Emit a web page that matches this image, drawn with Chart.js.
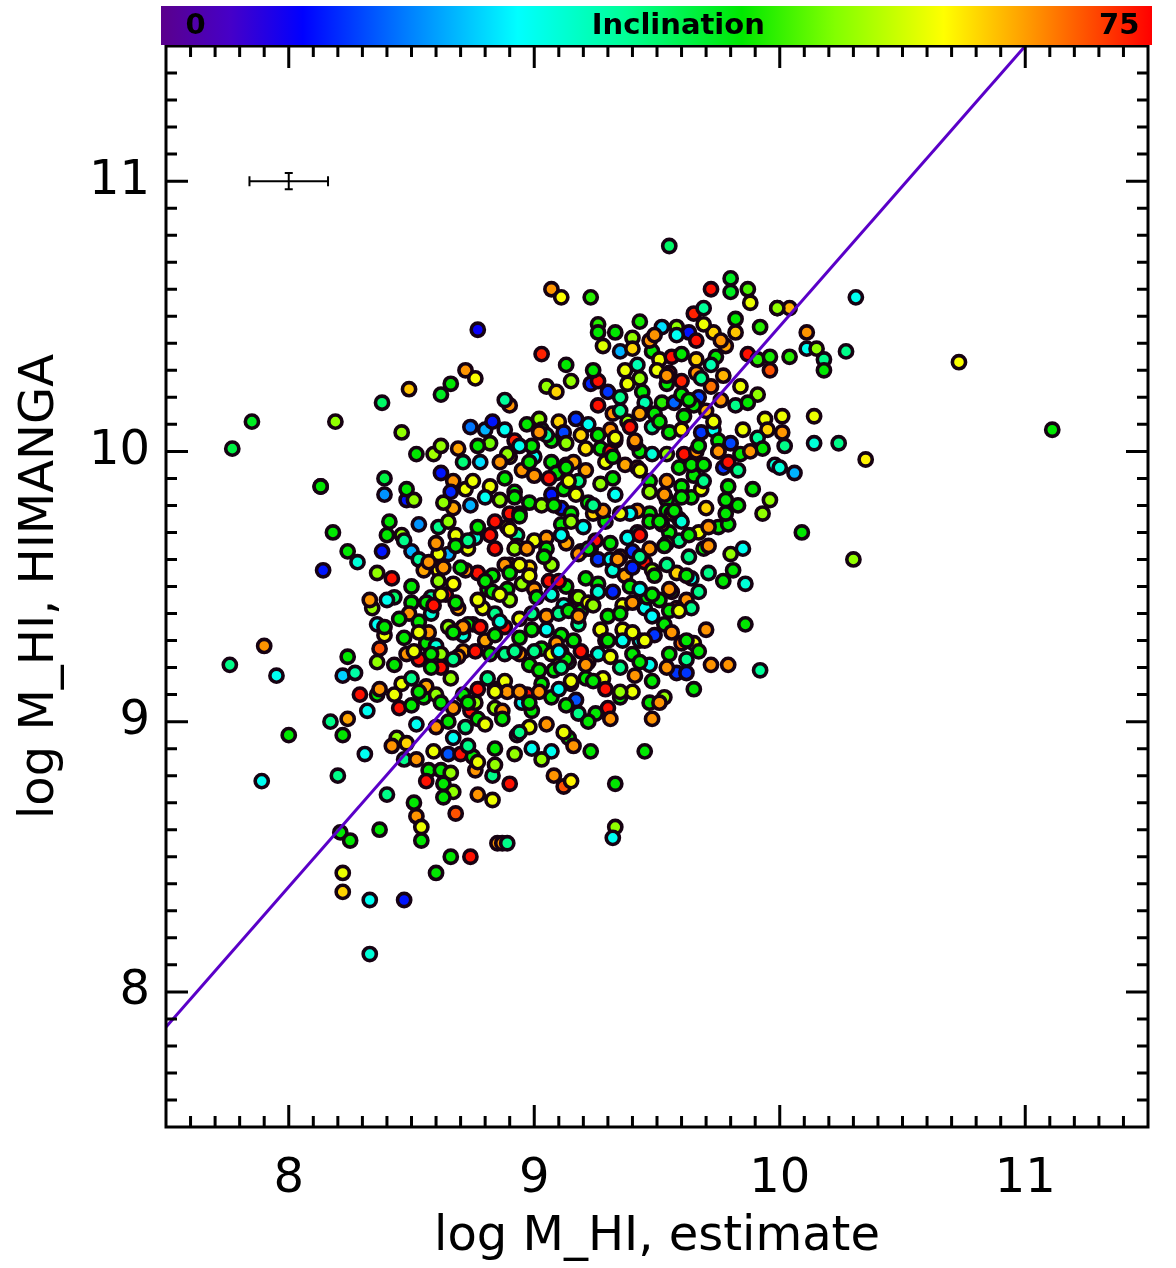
<!DOCTYPE html>
<html><head><meta charset="utf-8">
<script src="https://cdn.jsdelivr.net/npm/chart.js@4.4.1/dist/chart.umd.min.js"></script>
<style>html,body{margin:0;padding:0;background:#fff;} #wrap{width:1176px;height:1268px;position:relative;}</style>
</head><body><div id="wrap"><canvas id="c"></canvas></div>
<script>
// ---------- data ----------
const xTicks = [8, 9, 10, 11];
const yTicks = [8, 9, 10, 11];
const xRange = [7.5, 11.5];
const yRange = [7.5, 11.5];
const colorbarRange = [0, 75];
const colorbarLabels = ['0', 'Inclination', '75'];
const xTitle = 'log M_HI, estimate';
const yTitle = 'log M_HI, HIMANGA';

const fitX = [7.5, 11.0];
const fitY = [7.87, 11.5];

const errCenterX = [8.0];
const errCenterY = [11.0];
const errHalfX = [0.16];
const errHalfY = [0.03];

const xEstimate = [
 8.77,8.72,8.76,8.66,8.62,8.49,8.38,7.85,7.77,8.19,8.46,8.74,8.80,8.83,8.82,8.52,8.59,8.62,8.69,8.71,8.78,8.62,8.39,8.13,
 9.55,9.07,9.11,9.23,9.72,9.80,9.80,9.87,9.88,9.99,9.03,9.43,9.65,9.69,9.26,9.26,9.33,9.40,9.28,9.35,9.40,9.52,9.58,9.63,9.66,9.73,9.82,9.82,9.92,
 9.13,9.15,9.05,9.09,9.23,9.30,9.26,9.42,9.37,9.43,9.38,9.44,9.48,9.51,9.56,9.66,9.74,9.77,9.87,9.91,9.96,9.96,9.72,9.66,9.55,9.60,9.54,9.72,9.84,9.91,
 9.45,9.52,9.57,9.60,9.67,9.65,9.70,9.82,9.87,9.94,9.95,8.90,8.88,8.88,9.32,9.43,9.49,9.61,9.48,9.38,9.55,9.60,9.68,9.73,9.85,9.75,9.80,9.91,9.93,9.75,9.77,9.65,9.98,
 8.97,9.02,9.03,9.10,9.17,9.22,9.12,9.19,9.26,8.92,9.00,9.07,9.13,9.21,9.27,9.31,9.33,9.43,8.90,9.07,9.13,9.21,9.37,9.65,8.95,9.32,
 8.13,8.18,8.24,8.28,8.14,8.39,8.48,8.48,8.51,8.53,8.40,8.46,8.38,8.50,8.53,8.36,8.42,8.55,8.61,8.61,8.50,8.67,8.43,8.58,8.50,8.34,8.49,8.58,8.53,8.36,8.39,8.47,
 7.90,7.76,7.95,8.37,8.36,8.43,8.22,8.27,8.46,8.29,8.36,8.32,8.17,8.24,8.45,8.50,8.55,8.52,8.56,8.60,8.62,8.53,8.62,8.66,8.56,8.60,8.62,8.67,8.74,8.77,
 8.84,8.77,8.84,8.71,8.71,8.80,8.75,8.69,8.79,8.77,8.83,8.82,8.73,8.65,8.68,8.76,8.77,8.74,8.67,8.72,8.82,8.84,8.81,8.72,
 9.07,9.17,9.33,8.92,8.98,9.03,9.11,9.24,8.90,8.89,9.15,9.11,9.11,9.00,8.93,9.13,9.19,9.23,9.26,9.31,9.31,8.90,9.07,9.06,8.95,8.89,9.00,8.90,8.98,9.13,
 9.17,9.12,9.21,9.26,9.26,9.32,9.32,9.37,9.40,9.47,9.45,9.39,9.05,9.19,9.36,9.45,9.46,9.51,9.48,9.30,9.18,9.05,8.99,8.88,8.94,9.11,9.27,9.36,9.49,9.53,
 9.43,9.03,8.98,9.26,9.22,9.11,9.10,9.14,8.88,9.03,9.15,9.28,9.21,8.95,9.07,9.17,8.97,8.99,8.87,8.98,9.30,9.25,9.31,9.48,9.53,9.65,9.48,9.47,9.55,9.58,
 9.62,9.62,9.72,9.79,9.92,9.60,9.65,9.70,9.86,9.86,9.77,9.71,9.64,9.62,9.58,9.64,9.58,9.56,9.63,9.85,9.80,9.69,9.59,9.67,9.55,9.54,9.75,9.79,9.93,9.96,
 9.89,9.70,9.78,9.64,9.68,9.79,9.60,9.54,9.47,9.52,9.59,9.42,9.47,9.42,9.39,9.25,
 8.00,8.22,8.31,7.89,8.20,8.40,8.44,8.42,8.48,8.47,8.52,8.59,8.65,8.70,8.75,8.57,8.62,8.66,8.56,8.63,8.67,8.63,
 8.76,8.83,8.84,8.77,8.83,8.51,8.52,8.54,8.54,8.68,8.37,8.21,8.25,8.22,8.22,8.33,8.47,8.33,8.60,8.66,8.74,8.85,
 8.92,8.93,9.07,9.03,9.14,9.12,8.90,9.08,9.12,9.15,9.23,9.45,9.33,9.33,9.32,8.87,8.89,
 10.31,10.11,10.11,10.15,10.18,10.18,10.27,10.04,10.73,11.11,10.01,10.01,10.14,10.02,10.14,10.24,10.35,10.00,10.06,10.04,9.99,10.09,10.30,
 9.60,9.78,9.76,8.89,9.16,9.59,9.64,9.69,8.67,8.75,8.88,9.00,9.09,9.18,9.27,9.47,9.54,8.63,8.66,9.12,9.22,9.53,9.54,9.60,9.78,8.61,8.90,8.93,9.05,9.15,9.29,8.84,8.88,8.92,8.94,9.35,8.83,8.73,8.84,8.94,9.00,9.09,9.13,9.19,9.31,8.81,9.08,9.15,8.60,8.67,
 9.58,9.69,9.76,9.47,9.68,9.50,9.54,9.26,9.35,9.31,9.39,9.33,9.41,9.48,9.54,9.61,9.66,9.75,9.79,9.84,8.99,9.05,8.98,9.06,9.13,9.29,9.42,8.94,9.11,9.20,
 9.28,9.35,9.38,9.43,9.51,9.56,9.60,9.63,9.71,8.80,8.86,8.92,8.97,9.05,9.18,9.22,9.34,9.43,9.53,9.54,9.40,9.48,9.62,8.72,8.80,8.86,9.01,9.07,9.18,9.22,
 9.35,9.40,9.43,9.48,9.55,8.64,8.68,8.65,8.71,8.78,8.84,8.94,8.99,9.10,9.14,9.24,9.29,9.36,9.40,9.55,9.56,8.58,8.69,8.76,8.82,8.88,9.02,9.07,9.16,9.21,
 9.11,9.24,8.71,8.76,8.89,8.94,8.98,9.10,9.13,9.18,8.80,8.87,9.05,8.73,8.84,8.99,9.16,9.29,9.35,9.40,9.41,9.35,9.40,9.45,9.62,9.54,8.68,8.61,8.57,8.56,
 8.58,8.67,8.48,8.45,8.40,8.62,8.70,8.60,8.43,8.50,
 8.77,8.86,8.94,9.14,9.24,9.08,9.47,9.57,9.71,9.81,9.67,9.49,9.59,9.18,9.30,8.92,9.02,8.73,8.84,9.35,9.47,8.59,8.67,8.51,8.53,9.04,9.10,9.32,9.41,9.63,9.73,9.88,9.24,9.35,9.49,8.41,8.47,8.33,8.39,8.24,8.77,8.86,8.63,9.02,9.69,9.83,
 8.90,8.98,8.65,8.73,8.57,8.94,9.43,9.67,9.83,9.51,9.10,9.43,9.51,9.67,8.65,8.94,8.77,9.22,8.53,8.37
];
const yHimanga = [
 10.45,10.30,10.27,10.25,10.21,10.23,10.18,10.11,10.01,10.11,10.07,10.09,10.08,10.11,10.03,9.99,9.99,10.02,10.01,9.96,9.96,9.92,9.90,9.87,
 10.76,10.60,10.57,10.57,10.60,10.64,10.59,10.60,10.55,10.53,10.36,10.48,10.51,10.53,10.47,10.44,10.44,10.42,10.39,10.37,10.38,10.46,10.46,10.44,10.41,10.44,10.49,10.44,10.46,
 10.32,10.26,10.24,10.22,10.25,10.22,10.26,10.32,10.30,10.27,10.25,10.22,10.37,10.34,10.35,10.34,10.35,10.28,10.36,10.34,10.35,10.30,10.32,10.29,10.29,10.26,10.25,10.24,10.24,10.21,
 10.18,10.18,10.18,10.21,10.20,10.17,10.15,10.17,10.18,10.12,10.08,10.17,10.19,10.08,10.14,10.14,10.14,10.13,10.09,10.11,10.07,10.08,10.07,10.08,10.08,10.04,10.03,10.05,10.01,10.00,9.94,9.99,9.95,
 10.10,10.12,10.08,10.11,10.12,10.10,10.07,10.06,10.06,10.04,9.98,10.04,10.03,10.01,10.01,10.00,10.04,10.00,9.98,9.96,9.95,9.93,9.95,9.91,9.93,9.90,
 9.87,9.70,9.63,9.59,9.56,9.84,9.82,9.86,9.82,9.73,9.69,9.69,9.63,9.63,9.60,9.55,9.53,9.56,9.56,9.52,9.50,9.51,9.46,9.46,9.44,9.42,9.40,9.40,9.37,9.36,9.32,9.31,
 9.28,9.21,9.17,9.27,9.22,9.21,9.17,9.18,9.14,9.10,9.10,9.04,9.00,9.01,9.05,9.06,9.09,8.99,9.29,9.28,9.25,9.23,9.20,9.16,9.13,9.10,9.07,9.05,9.04,9.01,
 9.05,9.12,9.12,9.26,9.32,9.30,9.36,9.42,9.42,9.55,9.54,9.69,9.64,9.62,9.69,9.68,9.72,9.80,9.79,9.86,9.87,9.74,9.49,8.98,
 9.84,9.84,9.84,9.85,9.81,9.80,9.79,9.77,9.77,9.72,9.77,9.73,9.69,9.67,9.69,9.66,9.63,9.64,9.60,9.60,9.66,9.58,9.58,9.52,9.51,9.49,9.49,9.45,9.57,9.50,
 9.46,9.43,9.53,9.51,9.48,9.48,9.56,9.54,9.63,9.64,9.59,9.50,9.39,9.41,9.43,9.42,9.46,9.45,9.39,9.39,9.36,9.34,9.34,9.35,9.31,9.32,9.34,9.34,9.32,9.36,
 9.30,9.27,9.21,9.25,9.22,9.26,9.21,9.22,9.15,9.14,9.14,9.16,9.16,9.07,9.09,9.08,9.10,9.04,9.04,8.98,9.05,9.03,9.01,9.01,9.09,9.12,9.15,9.21,9.25,9.18,
 9.18,9.23,9.21,9.21,9.19,9.29,9.29,9.34,9.36,9.51,9.52,9.55,9.53,9.45,9.42,9.42,9.55,9.48,9.61,9.64,9.62,9.64,9.67,9.70,9.70,9.66,9.72,9.73,9.77,9.82,
 9.86,9.79,9.82,9.83,9.86,9.87,9.87,9.82,9.77,9.73,9.75,9.70,9.74,9.78,9.77,9.67,
 8.95,8.95,8.88,8.78,8.80,8.73,8.94,8.91,8.92,8.86,8.86,8.89,8.88,8.88,8.87,8.82,8.82,8.81,8.78,8.77,8.74,8.72,
 8.82,8.80,8.84,8.73,8.71,8.70,8.65,8.61,8.56,8.66,8.60,8.59,8.56,8.44,8.37,8.34,8.34,8.14,8.44,8.50,8.50,8.55,
 8.88,8.95,8.89,8.86,8.94,8.96,8.77,8.80,8.76,8.78,8.89,8.89,8.77,8.61,8.57,8.55,8.55,
 10.57,10.44,10.38,10.38,10.34,10.30,10.37,10.35,10.33,10.08,10.13,10.07,10.13,10.02,10.03,10.03,9.97,9.94,9.92,10.53,10.53,9.70,9.60,
 10.36,10.39,10.19,9.99,9.96,9.94,9.95,9.95,9.89,9.89,9.90,9.91,9.92,9.89,9.88,9.89,9.89,9.81,9.85,9.86,9.81,9.84,9.78,9.83,9.77,9.72,9.71,9.65,9.68,9.74,9.74,9.64,9.58,9.64,9.58,9.61,9.48,9.36,9.40,9.25,9.26,9.29,9.23,9.26,9.24,9.16,9.19,9.15,8.98,8.94,
 10.43,10.47,10.41,10.41,10.27,10.30,10.28,10.17,10.15,10.08,10.09,10.05,10.03,9.99,9.99,9.99,10.00,10.00,9.96,9.99,10.02,10.06,9.96,9.90,9.94,9.96,9.94,9.77,9.69,9.72,
 9.78,9.77,9.68,9.69,9.74,9.77,9.74,9.69,9.72,9.83,9.82,9.83,9.64,9.64,9.62,9.64,9.60,9.61,9.65,9.58,9.57,9.56,9.54,9.56,9.52,9.47,9.46,9.47,9.46,9.44,
 9.40,9.44,9.49,9.47,9.49,9.47,9.44,9.35,9.35,9.35,9.32,9.38,9.40,9.40,9.41,9.43,9.30,9.30,9.33,9.41,9.33,9.25,9.24,9.26,9.25,9.25,9.19,9.25,9.30,9.21,
 9.20,9.15,9.10,9.07,9.11,9.11,9.07,9.12,9.06,9.03,8.99,9.01,8.99,8.91,8.90,8.90,8.91,9.12,9.20,9.25,9.17,9.09,9.11,9.30,9.30,9.20,9.65,9.62,9.33,9.44,
 9.20,9.23,9.25,9.38,9.45,9.47,9.57,9.66,9.10,9.16,
 10.02,9.96,10.02,9.89,9.80,9.80,9.85,9.78,9.65,9.56,9.48,9.54,9.41,9.39,9.30,9.26,9.11,9.07,9.11,9.11,9.07,9.43,9.33,9.26,9.11,9.61,9.52,9.98,10.04,10.19,10.11,10.00,10.30,10.20,10.43,9.74,9.67,9.45,9.35,9.24,9.45,9.37,9.57,10.07,9.89,9.80,
 9.55,9.54,9.74,9.67,9.59,9.76,9.93,10.02,9.93,10.11,9.26,9.22,9.07,9.26,9.00,8.96,8.85,9.00,9.33,9.12
];
const inclination = [
 10,66,59,44,42,63,38,42,40,52,52,18,22,12,50,44,53,52,65,37,25,12,40,40,
 38,66,59,46,74,42,42,48,58,47,73,45,73,35,46,44,44,52,57,22,62,25,52,12,74,62,44,63,46,
 44,52,52,62,13,14,74,33,58,52,58,44,44,58,74,62,44,64,74,46,45,70,33,66,73,73,44,68,58,52,
 33,46,17,44,15,44,64,36,44,58,62,66,35,28,66,65,44,44,35,52,44,60,14,28,58,44,15,35,44,66,14,44,30,
 44,52,44,62,14,28,15,62,44,73,28,44,52,61,44,74,62,44,58,44,52,65,65,44,66,44,
 44,44,44,30,12,20,12,44,52,20,44,52,12,22,35,52,74,65,59,52,44,59,38,35,44,52,66,30,44,28,58,44,
 66,36,28,70,52,44,24,34,58,74,44,28,36,65,74,44,44,28,44,30,52,74,74,52,65,52,44,66,74,44,
 52,74,44,65,30,65,36,65,58,74,44,74,58,22,58,30,44,22,65,58,58,74,44,36,
 12,58,28,44,44,52,13,62,74,58,44,44,30,58,35,65,44,13,14,28,44,68,52,74,52,44,66,52,62,44,
 66,30,44,44,30,13,30,65,14,66,74,44,66,44,58,28,44,44,27,44,35,28,44,74,44,44,58,58,14,44,
 28,44,44,30,65,65,58,36,58,44,64,58,44,28,44,16,74,44,66,58,74,44,66,66,52,44,44,28,44,14,
 14,36,66,66,35,68,58,66,44,30,44,36,28,66,70,36,62,44,36,28,52,44,36,58,44,52,44,44,52,52,
 44,62,44,44,58,44,44,44,44,66,44,36,44,66,28,74,
 44,44,28,28,36,36,52,66,62,36,66,58,16,74,44,44,44,52,74,44,52,44,
 66,36,52,66,58,44,66,58,44,70,44,44,44,58,62,28,12,30,44,44,74,66,
 52,36,28,52,44,58,74,66,70,60,44,44,44,52,28,66,36,
 28,66,28,52,36,44,36,46,59,44,58,66,58,36,30,36,60,30,22,64,52,44,52,
 44,65,66,52,65,44,44,44,66,58,44,66,44,36,52,44,66,52,13,44,44,66,44,44,44,36,58,44,66,52,44,74,66,52,58,66,44,44,36,66,36,66,44,74,58,36,44,58,66,28,
 28,58,66,66,36,58,66,74,36,66,74,58,44,30,52,74,66,66,74,44,44,36,44,74,44,58,66,28,28,28,
 66,58,28,74,44,58,30,44,66,28,52,44,66,44,66,44,66,36,44,36,13,52,44,66,44,58,44,30,52,58,
 44,66,28,44,66,74,44,52,66,74,44,58,36,36,44,52,44,28,58,44,66,44,66,74,44,36,44,58,44,66,
 36,44,44,52,66,66,44,28,44,36,58,44,66,36,44,28,66,74,36,44,66,44,58,58,44,66,44,58,66,44,
 44,36,66,44,28,58,44,66,58,36,
 44,66,28,58,36,44,52,44,66,44,36,44,58,66,44,36,66,44,58,52,44,74,44,58,44,44,74,44,66,44,58,66,44,36,66,44,36,66,44,44,58,30,66,66,36,44,
 44,58,52,36,66,44,58,44,36,44,28,44,66,44,44,36,58,44,58,66
];

// ---------- style helpers ----------
const cmapStops = [
 [0.00, 90, 0, 140],
 [0.07, 70, 0, 200],
 [0.143, 0, 0, 255],
 [0.25, 0, 128, 255],
 [0.36, 0, 255, 255],
 [0.47, 0, 255, 150],
 [0.586, 0, 232, 0],
 [0.68, 130, 255, 0],
 [0.79, 255, 255, 0],
 [0.87, 255, 160, 0],
 [1.00, 255, 0, 0]
];
function cmap(f) {
  f = Math.max(0, Math.min(1, f));
  for (let i = 1; i < cmapStops.length; i++) {
    const a = cmapStops[i-1], b = cmapStops[i];
    if (f <= b[0]) {
      const t = (f - a[0]) / (b[0] - a[0]);
      const r = Math.round(a[1] + t*(b[1]-a[1]));
      const g = Math.round(a[2] + t*(b[2]-a[2]));
      const bl = Math.round(a[3] + t*(b[3]-a[3]));
      return `rgb(${r},${g},${bl})`;
    }
  }
  return 'rgb(255,0,0)';
}
function inclColor(v) { return cmap((v - colorbarRange[0]) / (colorbarRange[1] - colorbarRange[0])); }

const FONT = '"DejaVu Sans", "Liberation Sans", sans-serif';

const decorPlugin = {
  id: 'decor',
  afterDatasetsDraw(chart) {
    const {ctx, chartArea: a, scales: {x, y}} = chart;
    ctx.save();
    // error bar
    ctx.strokeStyle = '#000'; ctx.lineWidth = 2;
    for (let k = 0; k < errCenterX.length; k++) {
      const cx = x.getPixelForValue(errCenterX[k]), cy = y.getPixelForValue(errCenterY[k]);
      const x0 = x.getPixelForValue(errCenterX[k] - errHalfX[k]), x1 = x.getPixelForValue(errCenterX[k] + errHalfX[k]);
      const y0 = y.getPixelForValue(errCenterY[k] - errHalfY[k]), y1 = y.getPixelForValue(errCenterY[k] + errHalfY[k]);
      ctx.beginPath();
      ctx.moveTo(x0, cy); ctx.lineTo(x1, cy);
      ctx.moveTo(x0, cy-5); ctx.lineTo(x0, cy+5);
      ctx.moveTo(x1, cy-5); ctx.lineTo(x1, cy+5);
      ctx.moveTo(cx, y0); ctx.lineTo(cx, y1);
      ctx.moveTo(cx-4, y0); ctx.lineTo(cx+4, y0);
      ctx.moveTo(cx-4, y1); ctx.lineTo(cx+4, y1);
      ctx.stroke();
    }
    // frame and inward ticks
    ctx.lineWidth = 3; ctx.strokeStyle = '#000'; ctx.lineCap = 'butt';
    ctx.strokeRect(a.left, a.top, a.right - a.left, a.bottom - a.top);
    ctx.beginPath();
    for (let k = Math.round(xRange[0]*10)+1; k < Math.round(xRange[1]*10); k++) {
      const v = k/10, len = (k % 10 === 0) ? 22 : 11;
      const px = x.getPixelForValue(v);
      ctx.moveTo(px, a.bottom); ctx.lineTo(px, a.bottom - len);
      ctx.moveTo(px, a.top); ctx.lineTo(px, a.top + len);
    }
    for (let k = Math.round(yRange[0]*10)+1; k < Math.round(yRange[1]*10); k++) {
      const v = k/10, len = (k % 10 === 0) ? 22 : 11;
      const py = y.getPixelForValue(v);
      ctx.moveTo(a.left, py); ctx.lineTo(a.left + len, py);
      ctx.moveTo(a.right, py); ctx.lineTo(a.right - len, py);
    }
    ctx.stroke();
    // colorbar
    const cbL = a.left - 5, cbR = a.right + 4, cbT = 6, cbB = a.top - 1;
    const grad = ctx.createLinearGradient(cbL, 0, cbR, 0);
    cmapStops.forEach(s => grad.addColorStop(s[0], `rgb(${s[1]},${s[2]},${s[3]})`));
    ctx.fillStyle = grad;
    ctx.fillRect(cbL, cbT, cbR - cbL, cbB - cbT);
    ctx.fillStyle = '#000';
    ctx.font = `bold 29px ${FONT}`;
    ctx.textBaseline = 'middle'; ctx.textAlign = 'center';
    const cy2 = (cbT + cbB) / 2 + 1;
    const w = cbR - cbL;
    ctx.fillText(colorbarLabels[0], cbL + 0.035*w, cy2);
    ctx.fillText(colorbarLabels[1], cbL + 0.522*w, cy2);
    ctx.fillText(colorbarLabels[2], cbL + 0.967*w, cy2);
    ctx.restore();
  }
};

const ctx = document.getElementById('c').getContext('2d');
new Chart(ctx, {
  type: 'scatter',
  data: {
    datasets: [
      {
        data: fitX.map((v, i) => ({x: v, y: fitY[i]})),
        showLine: true, pointRadius: 0, borderColor: 'rgb(90,0,200)', borderWidth: 3, fill: false
      },
      {
        data: xEstimate.map((v, i) => ({x: v, y: yHimanga[i]})),
        pointRadius: 6.6, pointHoverRadius: 6.6, borderWidth: 3.6,
        borderColor: 'rgb(22,2,18)',
        backgroundColor: inclination.map(inclColor)
      }
    ]
  },
  options: {
    responsive: true, maintainAspectRatio: false, animation: false,
    layout: {padding: {left: 0, right: 28, top: 46, bottom: 0}},
    plugins: {legend: {display: false}, tooltip: {enabled: false}},
    scales: {
      x: {
        type: 'linear', min: xRange[0], max: xRange[1],
        afterBuildTicks: s => { s.ticks = xTicks.map(v => ({value: v})); },
        afterFit: s => { s.height = 141; },
        grid: {display: false, drawTicks: false}, border: {display: false},
        ticks: {color: '#000', font: {family: FONT, size: 48}, padding: 24, maxRotation: 0, callback: v => String(v)},
        title: {display: true, text: xTitle, color: '#000', font: {family: FONT, size: 48}, padding: {top: 0, bottom: 2}}
      },
      y: {
        type: 'linear', min: yRange[0], max: yRange[1],
        afterBuildTicks: s => { s.ticks = yTicks.map(v => ({value: v})); },
        afterFit: s => { s.width = 166; },
        grid: {display: false, drawTicks: false}, border: {display: false},
        ticks: {color: '#000', font: {family: FONT, size: 48}, padding: 16, callback: v => String(v)},
        title: {display: true, text: yTitle, color: '#000', font: {family: FONT, size: 48}, padding: {top: 12, bottom: 0}}
      }
    }
  },
  plugins: [decorPlugin]
});
</script>
</body></html>
